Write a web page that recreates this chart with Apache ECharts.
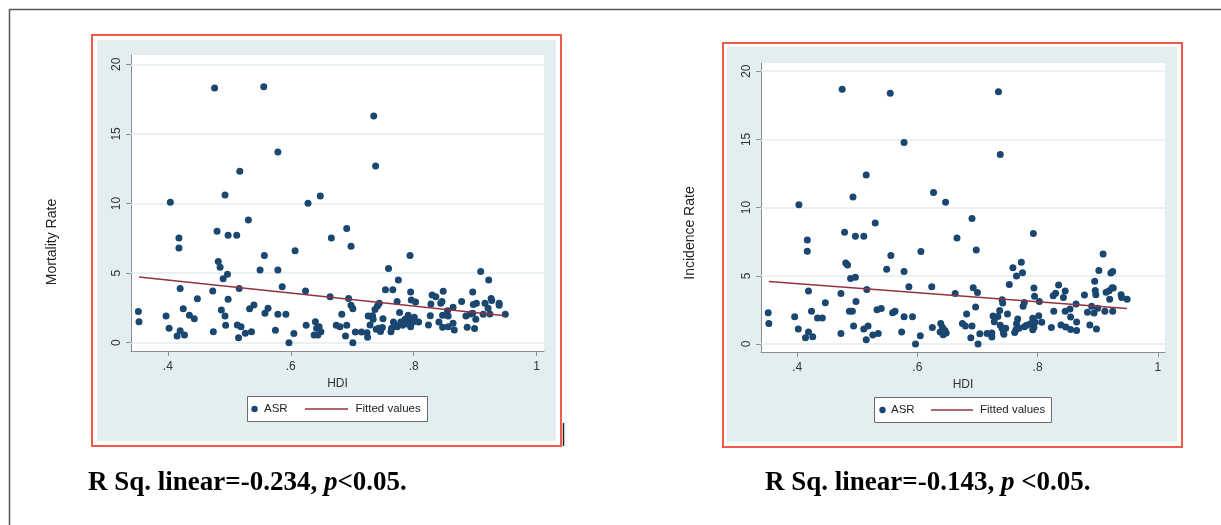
<!DOCTYPE html>
<html><head><meta charset="utf-8">
<script src="https://cdn.jsdelivr.net/npm/echarts@6/dist/echarts.min.js"></script>
<style>html,body{margin:0;padding:0;background:#fff}#c{width:1221px;height:525px}</style>
</head><body><div id="c"></div>
<script>
// ---- Data ----
const mortHDI = [0.352,0.353,0.397,0.402,0.404,0.418,0.418,0.420,0.425,0.420,0.415,0.427,0.435,0.443,0.448,0.473,0.474,0.476,0.480,0.482,0.485,0.490,0.497,0.487,0.493,0.493,0.498,0.498,0.494,0.512,0.517,0.516,0.513,0.519,0.515,0.526,0.531,0.533,0.540,0.536,0.550,0.556,0.557,0.558,0.563,0.575,0.579,0.579,0.579,0.586,0.592,0.597,0.605,0.607,0.624,0.625,0.628,0.640,0.638,0.642,0.648,0.646,0.649,0.644,0.664,0.666,0.674,0.680,0.683,0.689,0.691,0.691,0.694,0.698,0.698,0.701,0.701,0.705,0.715,0.724,0.725,0.726,0.729,0.733,0.734,0.735,0.738,0.737,0.739,0.741,0.744,0.743,0.746,0.750,0.749,0.754,0.759,0.763,0.764,0.766,0.767,0.769,0.773,0.775,0.773,0.777,0.779,0.782,0.786,0.790,0.791,0.794,0.795,0.794,0.795,0.796,0.801,0.803,0.808,0.799,0.824,0.827,0.828,0.830,0.836,0.841,0.844,0.846,0.847,0.848,0.847,0.855,0.856,0.856,0.864,0.864,0.866,0.878,0.885,0.887,0.892,0.896,0.897,0.896,0.899,0.901,0.902,0.909,0.913,0.916,0.922,0.921,0.924,0.926,0.927,0.939,0.939,0.949];
const mortASR = [2.23,1.51,1.92,1.03,10.08,7.52,6.80,3.90,2.44,0.86,0.48,0.55,1.96,1.72,3.16,3.71,0.79,18.29,8.00,5.84,5.41,4.60,4.91,2.35,1.92,10.61,7.71,3.11,1.25,7.71,12.31,3.90,1.27,1.15,0.36,0.67,8.81,2.44,2.71,0.79,5.22,18.39,6.27,2.11,2.47,0.89,13.70,5.22,2.04,4.02,2.04,0.00,0.65,6.61,3.71,1.25,10.01,1.51,0.55,1.03,10.54,1.15,0.79,0.55,3.30,7.52,1.25,1.15,2.04,0.48,1.25,8.21,3.18,6.92,2.68,2.44,0.00,0.77,0.77,0.72,0.38,1.92,1.27,1.94,1.68,16.28,12.69,2.39,0.96,2.63,2.83,1.03,0.81,1.72,1.08,3.81,5.32,0.79,1.03,3.81,1.48,1.29,1.15,4.50,2.95,2.16,1.48,1.25,1.68,1.34,1.96,6.27,3.64,1.72,1.15,3.07,1.82,2.92,1.48,1.48,1.27,1.94,2.78,3.42,3.30,1.48,2.83,2.95,1.96,3.69,1.10,2.30,1.15,1.92,2.54,1.39,0.91,2.95,1.92,1.10,2.06,3.64,2.75,2.11,1.01,1.68,2.83,5.12,2.04,2.83,4.50,2.47,2.06,3.18,3.02,2.83,2.68,2.04];
const mortFitHDI = [0.353, 0.949];
const mortFitVal = [4.72, 1.94];

const incHDI = [0.352,0.353,0.396,0.402,0.403,0.417,0.417,0.419,0.424,0.419,0.414,0.426,0.434,0.442,0.447,0.473,0.473,0.475,0.479,0.481,0.484,0.489,0.497,0.487,0.492,0.493,0.497,0.498,0.494,0.511,0.515,0.516,0.511,0.518,0.515,0.526,0.530,0.533,0.540,0.535,0.549,0.555,0.556,0.559,0.563,0.574,0.578,0.578,0.578,0.586,0.592,0.597,0.605,0.606,0.624,0.625,0.627,0.639,0.638,0.642,0.647,0.646,0.648,0.643,0.663,0.666,0.675,0.680,0.682,0.689,0.691,0.691,0.693,0.698,0.697,0.700,0.701,0.704,0.716,0.724,0.724,0.726,0.728,0.734,0.735,0.738,0.737,0.741,0.742,0.738,0.741,0.743,0.747,0.744,0.750,0.753,0.759,0.765,0.767,0.765,0.762,0.764,0.769,0.773,0.775,0.776,0.778,0.778,0.782,0.788,0.792,0.793,0.794,0.795,0.794,0.796,0.802,0.803,0.807,0.792,0.823,0.826,0.827,0.830,0.835,0.839,0.843,0.846,0.846,0.847,0.854,0.855,0.855,0.864,0.865,0.865,0.878,0.883,0.887,0.890,0.894,0.895,0.896,0.897,0.898,0.900,0.902,0.909,0.912,0.914,0.919,0.920,0.922,0.925,0.924,0.926,0.925,0.939,0.940,0.949];
const incASR = [2.29,1.51,2.00,1.10,10.20,7.63,6.80,3.88,2.41,0.88,0.46,0.54,1.90,1.90,3.02,3.71,0.78,18.68,8.20,5.93,5.80,4.80,4.90,2.41,2.41,10.78,7.90,3.12,1.32,7.90,12.39,4.00,1.10,1.32,0.32,0.66,8.88,2.51,2.61,0.78,5.49,18.39,6.49,2.29,2.41,0.88,14.78,5.32,2.00,4.20,2.00,0.00,0.61,6.78,4.20,1.22,11.10,1.51,0.88,1.22,10.39,1.00,0.80,0.68,3.71,7.78,1.51,1.32,2.20,0.46,1.32,9.20,4.12,6.90,2.71,3.78,0.00,0.76,0.78,0.80,0.51,2.05,1.63,2.02,18.49,13.90,2.46,3.24,3.00,1.37,1.15,0.88,1.15,0.71,2.20,4.37,5.59,4.98,1.83,1.49,0.85,1.05,1.15,6.00,5.22,2.76,3.05,1.27,1.37,1.49,1.88,8.10,4.10,3.51,1.22,1.59,2.07,3.12,1.59,1.05,1.22,3.54,2.41,3.73,4.32,1.39,3.41,3.88,2.41,1.24,2.56,1.98,1.07,2.93,1.61,1.00,3.59,2.32,1.39,2.76,2.27,4.61,3.93,3.61,1.10,2.63,5.39,6.59,2.41,3.80,3.90,3.29,5.20,5.32,4.12,4.10,2.41,3.61,3.41,3.29];
const incFitHDI = [0.353, 0.949];
const incFitVal = [4.59, 2.61];

const yTickValues = [0, 5, 10, 15, 20];
const yTickLabels = ['0', '5', '10', '15', '20'];
const xTickValues = [0.4, 0.6, 0.8, 1];
const xTickLabels = ['.4', '.6', '.8', '1'];
const seriesNames = ['ASR', 'Fitted values'];
const yTitles = ['Mortality Rate', 'Incidence Rate'];
const captions = [
  ['R Sq. linear=-0.234, ', 'p', '<0.05.'],
  ['R Sq. linear=-0.143, ', 'p', ' <0.05.']
];

// ---- Styling ----
const FONT = '"Liberation Sans", Arial, sans-serif';
const NAVY = '#1a476f';
const MAROON = '#923440';
const AXIS = '#8c8c8c';
const GRIDC = '#e2ecf0';
const BG = '#e3eef0';

function zip(a, b) { return a.map((v, i) => [v, b[i]]); }
function lbl(values, labels) {
  return v => { const i = values.findIndex(t => Math.abs(t - v) < 1e-9); return i >= 0 ? labels[i] : ''; };
}

function makeX(gi, nameGap) {
  return {
    type: 'value', gridIndex: gi, min: 0.34, max: 1.012,
    axisLine: { show: true, onZero: false, lineStyle: { color: AXIS, width: 1 } },
    axisTick: { show: true, length: 5, customValues: xTickValues, lineStyle: { color: AXIS } },
    axisLabel: { customValues: xTickValues, formatter: lbl(xTickValues, xTickLabels), margin: 10, fontSize: 12, color: '#333', fontFamily: FONT },
    splitLine: { show: false },
    name: 'HDI', nameLocation: 'middle', nameGap: nameGap,
    nameTextStyle: { fontSize: 12, color: '#333', fontFamily: FONT }
  };
}
function makeY(gi, mn, mx) {
  return {
    type: 'value', gridIndex: gi, min: mn, max: mx,
    axisLine: { show: true, onZero: false, lineStyle: { color: AXIS, width: 1 } },
    axisTick: { show: true, length: 5, customValues: yTickValues, lineStyle: { color: AXIS } },
    axisLabel: { customValues: yTickValues, formatter: lbl(yTickValues, yTickLabels), rotate: 90, margin: 8, fontSize: 12, color: '#333', fontFamily: FONT },
    splitLine: { show: false }
  };
}
function gridSeries(i) {
  return {
    type: 'line', xAxisIndex: i, yAxisIndex: i, data: [], z: 1, silent: true,
    markLine: { z: 1, silent: true, symbol: 'none', label: { show: false },
      lineStyle: { color: GRIDC, width: 1.5, type: 'solid' },
      emphasis: { disabled: true },
      data: yTickValues.map(v => ({ yAxis: v })) }
  };
}

const chart = echarts.init(document.getElementById('c'), null, { renderer: 'canvas' });

function legendGraphics(bx, by, bw, bh, dotX, asrX, lx1, lx2, fitX) {
  const cy = by + bh / 2;
  return [
    { type: 'rect', z: 50, shape: { x: bx, y: by, width: bw, height: bh }, style: { fill: '#fff', stroke: '#6b6b6b', lineWidth: 1 } },
    { type: 'circle', z: 51, shape: { cx: dotX, cy: cy, r: 3.2 }, style: { fill: NAVY } },
    { type: 'text', z: 51, x: asrX, y: cy, style: { text: seriesNames[0], font: '11.5px ' + FONT, fill: '#222', verticalAlign: 'middle' } },
    { type: 'line', z: 51, shape: { x1: lx1, y1: cy, x2: lx2, y2: cy }, style: { stroke: MAROON, lineWidth: 1.5 } },
    { type: 'text', z: 51, x: fitX, y: cy, style: { text: seriesNames[1], font: '11.5px ' + FONT, fill: '#222', verticalAlign: 'middle' } }
  ];
}
function caption(x, y, parts) {
  return { type: 'text', z: 60, x: x, y: y, style: {
    text: '{b|' + parts[0] + '}{i|' + parts[1] + '}{b|' + parts[2] + '}',
    verticalAlign: 'middle',
    rich: {
      b: { font: 'bold 27px "Liberation Serif", "Times New Roman", serif', fill: '#000' },
      i: { font: 'italic bold 27px "Liberation Serif", "Times New Roman", serif', fill: '#000' }
    } } };
}

const graphics = [
  { type: 'polyline', z: -20, shape: { points: [[9.5, 525], [9.5, 9.5], [1221, 9.5]] }, style: { stroke: '#555', lineWidth: 1.5, fill: null } },
  { type: 'rect', z: -20, shape: { x: 92, y: 35, width: 469, height: 411 }, style: { fill: '#fff', stroke: '#ef5a4b', lineWidth: 2 } },
  { type: 'rect', z: -19, shape: { x: 97, y: 40, width: 459, height: 401 }, style: { fill: BG } },
  { type: 'rect', z: -20, shape: { x: 723, y: 43, width: 459, height: 404 }, style: { fill: '#fff', stroke: '#ef5a4b', lineWidth: 2 } },
  { type: 'rect', z: -19, shape: { x: 727, y: 47, width: 450, height: 395 }, style: { fill: BG } },
  { type: 'line', z: 10, shape: { x1: 563.5, y1: 423, x2: 563.5, y2: 446 }, style: { stroke: '#222', lineWidth: 1.5 } },
  { type: 'text', z: 10, x: 52, y: 242, rotation: Math.PI / 2, style: { text: yTitles[0], font: '14px ' + FONT, fill: '#222', align: 'center', verticalAlign: 'middle' } },
  { type: 'text', z: 10, x: 690, y: 233, rotation: Math.PI / 2, style: { text: yTitles[1], font: '14px ' + FONT, fill: '#222', align: 'center', verticalAlign: 'middle' } },
  caption(88, 483, captions[0]),
  caption(765, 483, captions[1])
].concat(
  legendGraphics(247.5, 396.5, 180, 25, 254.5, 264, 305, 348, 355.5),
  legendGraphics(874.5, 397.5, 177, 25, 882.5, 891, 931, 973, 980)
);

chart.setOption({
  animation: false,
  backgroundColor: '#fff',
  textStyle: { fontFamily: FONT },
  grid: [
    { left: 131, top: 55, width: 413, height: 296, show: true, backgroundColor: '#fff', borderWidth: 0, containLabel: false },
    { left: 761, top: 63, width: 404, height: 289, show: true, backgroundColor: '#fff', borderWidth: 0, containLabel: false }
  ],
  xAxis: [makeX(0, 25), makeX(1, 24)],
  yAxis: [makeY(0, -0.6, 20.67), makeY(1, -0.585, 20.6)],
  graphic: graphics,
  series: [
    gridSeries(0),
    { name: seriesNames[0], type: 'scatter', xAxisIndex: 0, yAxisIndex: 0, z: 3, symbolSize: 7, itemStyle: { color: NAVY, opacity: 1 }, data: zip(mortHDI, mortASR) },
    { name: seriesNames[1], type: 'line', xAxisIndex: 0, yAxisIndex: 0, z: 4, symbol: 'none', lineStyle: { color: MAROON, width: 1.5 }, data: zip(mortFitHDI, mortFitVal) },
    gridSeries(1),
    { name: seriesNames[0], type: 'scatter', xAxisIndex: 1, yAxisIndex: 1, z: 3, symbolSize: 7, itemStyle: { color: NAVY, opacity: 1 }, data: zip(incHDI, incASR) },
    { name: seriesNames[1], type: 'line', xAxisIndex: 1, yAxisIndex: 1, z: 4, symbol: 'none', lineStyle: { color: MAROON, width: 1.5 }, data: zip(incFitHDI, incFitVal) }
  ]
});
</script>
</body></html>
